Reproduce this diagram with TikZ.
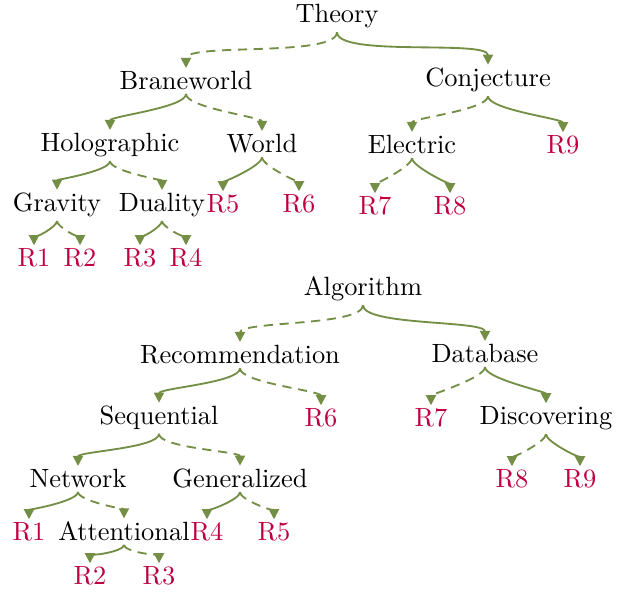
\documentclass[tikz,border=0pt]{standalone}
\usepackage{xcolor}
\usetikzlibrary{arrows.meta}
\definecolor{moss}{HTML}{748F45}
\definecolor{berry}{HTML}{BF0040}
\begin{document}
\begin{tikzpicture}[x=0.3788pt,y=-0.3788pt,>={Triangle[length=3.8pt,width=3.8pt]}]
  \tikzstyle{term}=[anchor=base,inner sep=1.2pt,text=black]
  \tikzstyle{res}=[anchor=base,inner sep=1.2pt,text=berry]
  \tikzstyle{link}=[->,moss,line width=0.7pt,out=-90,in=90,looseness=0.42]
  \tikzstyle{guess}=[link,dash pattern=on 3.5pt off 2.5pt]
  \useasboundingbox (0,0) rectangle (625,592);
  % first tree
  \node[term] (theory) at (337,23) {Theory};
  \node[term] (brane) at (186,90) {Braneworld};
  \node[term] (conj) at (488,87) {Conjecture};
  \node[term] (holo) at (110,152) {Holographic};
  \node[term] (world) at (262,153) {World};
  \node[term] (elec) at (412,154) {Electric};
  \node[res] (ta9) at (563,154) {R9};
  \node[term] (grav) at (57,212) {Gravity};
  \node[term] (dual) at (162,212) {Duality};
  \node[res] (ta5) at (223,213) {R5};
  \node[res] (ta6) at (299,213) {R6};
  \node[res] (ta7) at (375,215) {R7};
  \node[res] (ta8) at (450,215) {R8};
  \node[res] (ta1) at (34,267) {R1};
  \node[res] (ta2) at (80,267) {R2};
  \node[res] (ta3) at (140,267) {R3};
  \node[res] (ta4) at (186,267) {R4};
  \draw[guess] (theory.south) to (brane.north);
  \draw[link] (theory.south) to (conj.north);
  \draw[link] (brane.south) to (holo.north);
  \draw[guess] (brane.south) to (world.north);
  \draw[guess] (conj.south) to (elec.north);
  \draw[link] (conj.south) to (ta9.north);
  \draw[link] (holo.south) to (grav.north);
  \draw[guess] (holo.south) to (dual.north);
  \draw[link] (world.south) to (ta5.north);
  \draw[guess] (world.south) to (ta6.north);
  \draw[guess] (elec.south) to (ta7.north);
  \draw[link] (elec.south) to (ta8.north);
  \draw[link] (grav.south) to (ta1.north);
  \draw[guess] (grav.south) to (ta2.north);
  \draw[link] (dual.south) to (ta3.north);
  \draw[guess] (dual.south) to (ta4.north);
  % second tree
  \node[term] (algo) at (363,296) {Algorithm};
  \node[term] (recom) at (240,364) {Recommendation};
  \node[term] (data) at (485,363) {Database};
  \node[term] (seq) at (159,425) {Sequential};
  \node[res] (tb6) at (321,427) {R6};
  \node[res] (tb7) at (431,427) {R7};
  \node[term] (disc) at (546,425) {Discovering};
  \node[term] (net) at (78,488) {Network};
  \node[term] (gen) at (240,488) {Generalized};
  \node[res] (tb8) at (512,488) {R8};
  \node[res] (tb9) at (580,488) {R9};
  \node[res] (tb1) at (29,541) {R1};
  \node[term] (att) at (124,541) {Attentional};
  \node[res] (tb4) at (207,541) {R4};
  \node[res] (tb5) at (274,541) {R5};
  \node[res] (tb2) at (90,585) {R2};
  \node[res] (tb3) at (159,585) {R3};
  \draw[guess] (algo.south) to (recom.north);
  \draw[link] (algo.south) to (data.north);
  \draw[link] (recom.south) to (seq.north);
  \draw[guess] (recom.south) to (tb6.north);
  \draw[guess] (data.south) to (tb7.north);
  \draw[link] (data.south) to (disc.north);
  \draw[link] (seq.south) to (net.north);
  \draw[guess] (seq.south) to (gen.north);
  \draw[guess] (disc.south) to (tb8.north);
  \draw[link] (disc.south) to (tb9.north);
  \draw[link] (net.south) to (tb1.north);
  \draw[guess] (net.south) to (att.north);
  \draw[link] (gen.south) to (tb4.north);
  \draw[guess] (gen.south) to (tb5.north);
  \draw[link] (att.south) to (tb2.north);
  \draw[guess] (att.south) to (tb3.north);
\end{tikzpicture}
\end{document}
